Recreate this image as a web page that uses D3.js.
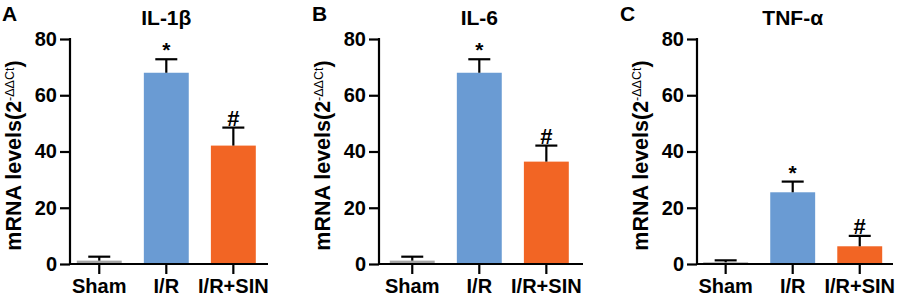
<!DOCTYPE html>
<html>
<head>
<meta charset="utf-8">
<script src="https://cdn.jsdelivr.net/npm/d3@7"></script>
<style>
  body { margin: 0; background: #fff; }
  svg { display: block; font-family: "Liberation Sans", Arial, sans-serif; }
</style>
</head>
<body>
<div id="graph"></div>
<script>
var groups = ['Sham', 'I/R', 'I/R+SIN']
var colors = ['#a5a5a5', '#6a9bd3', '#f26524']
var marks = ['', '*', '#']
var yTicks = [0, 20, 40, 60, 80]

var titles = ['IL-1β', 'IL-6', 'TNF-α']
var letters = ['A', 'B', 'C']

var il1b = [1.2, 68.0, 42.1]
var il1bErr = [1.4, 4.8, 6.4]
var il6 = [1.2, 68.0, 36.4]
var il6Err = [1.4, 4.8, 5.7]
var tnf = [0.6, 25.5, 6.3]
var tnfErr = [0.7, 3.8, 3.7]

var series = [[il1b, il1bErr], [il6, il6Err], [tnf, tnfErr]]

// panel layout: y axis x, first band start, x axis end, letter x
var panels = [
  {ax: 70, bx: 76.8, end: 268, lx: 2},
  {ax: 379, bx: 389.8, end: 583, lx: 312},
  {ax: 697, bx: 703.2, end: 893, lx: 620}
]

var W = 899, H = 298
var svg = d3.select('#graph').append('svg').attr('width', W).attr('height', H)

var y = d3.scaleLinear().domain([0, 80]).range([264, 39])

panels.forEach(function(p, pi) {
  var vals = series[pi][0], errs = series[pi][1]
  var g = svg.append('g')

  var x = d3.scaleBand().domain(groups)
    .range([p.bx, p.bx + 179]).paddingInner(0.33).paddingOuter(0)

  // bars
  g.selectAll('rect.bar').data(groups).enter().append('rect')
    .attr('x', function(d) { return x(d) })
    .attr('width', x.bandwidth())
    .attr('y', function(d, i) { return y(vals[i]) })
    .attr('height', function(d, i) { return y(0) - y(vals[i]) })
    .attr('fill', function(d, i) { return colors[i] })

  // upper error bars
  var eb = g.selectAll('g.err').data(groups).enter().append('g')
    .attr('transform', function(d) { return 'translate(' + (x(d) + x.bandwidth()/2) + ',0)' })
  eb.append('line')
    .attr('y1', function(d, i) { return y(vals[i]) })
    .attr('y2', function(d, i) { return y(vals[i] + errs[i]) })
    .attr('stroke', '#000').attr('stroke-width', 2.2)
  eb.append('line')
    .attr('x1', -11).attr('x2', 11)
    .attr('y1', function(d, i) { return y(vals[i] + errs[i]) })
    .attr('y2', function(d, i) { return y(vals[i] + errs[i]) })
    .attr('stroke', '#000').attr('stroke-width', 2.2)
  eb.append('text')
    .text(function(d, i) { return marks[i] })
    .attr('y', function(d, i) { return y(vals[i] + errs[i]) - 2 })
    .attr('text-anchor', 'middle')
    .attr('font-size', function(d, i) { return i == 1 ? 21 : 22 })
    .attr('font-weight', 'bold')

  // axes
  var yAxis = d3.axisLeft(y).tickValues(yTicks).tickSize(10).tickPadding(3)
  var ya = g.append('g').attr('transform', 'translate(' + p.ax + ',0)').call(yAxis)
  var xAxis = d3.axisBottom(x).tickSize(10).tickPadding(5)
  var xa = g.append('g').attr('transform', 'translate(0,' + y(0) + ')').call(xAxis)

  ;[ya, xa].forEach(function(a) {
    a.select('.domain').remove()
    a.selectAll('.tick line').attr('stroke', '#000').attr('stroke-width', 2.2)
    a.selectAll('.tick text').attr('fill', '#000')
      .attr('font-size', 20).attr('font-weight', 'bold')
      .attr('font-family', '"Liberation Sans", Arial, sans-serif')
  })

  g.append('path')
    .attr('d', 'M' + p.ax + ',' + (y(80) - 1) + 'V' + y(0) + 'H' + p.end)
    .attr('fill', 'none').attr('stroke', '#000').attr('stroke-width', 2.2)

  // y label
  var lab = g.append('text')
    .attr('transform', 'translate(' + (p.ax - 49) + ',' + (y(40) + 4) + ') rotate(-90)')
    .attr('text-anchor', 'middle')
    .attr('font-size', 21.5).attr('font-weight', 'bold')
  lab.append('tspan').text('mRNA levels(2')
  lab.append('tspan').text('-ΔΔCt')
    .attr('font-size', 12.5).attr('font-weight', 'normal').attr('dy', '-0.6em')
  lab.append('tspan').text(')').attr('dy', '0.35em')

  // title and panel letter
  g.append('text').text(titles[pi])
    .attr('x', x('I/R') + x.bandwidth()/2).attr('y', 25)
    .attr('text-anchor', 'middle')
    .attr('font-size', 21).attr('font-weight', 'bold')
  g.append('text').text(letters[pi])
    .attr('x', p.lx).attr('y', 21)
    .attr('font-size', 21).attr('font-weight', 'bold')
})
</script>
</body>
</html>
